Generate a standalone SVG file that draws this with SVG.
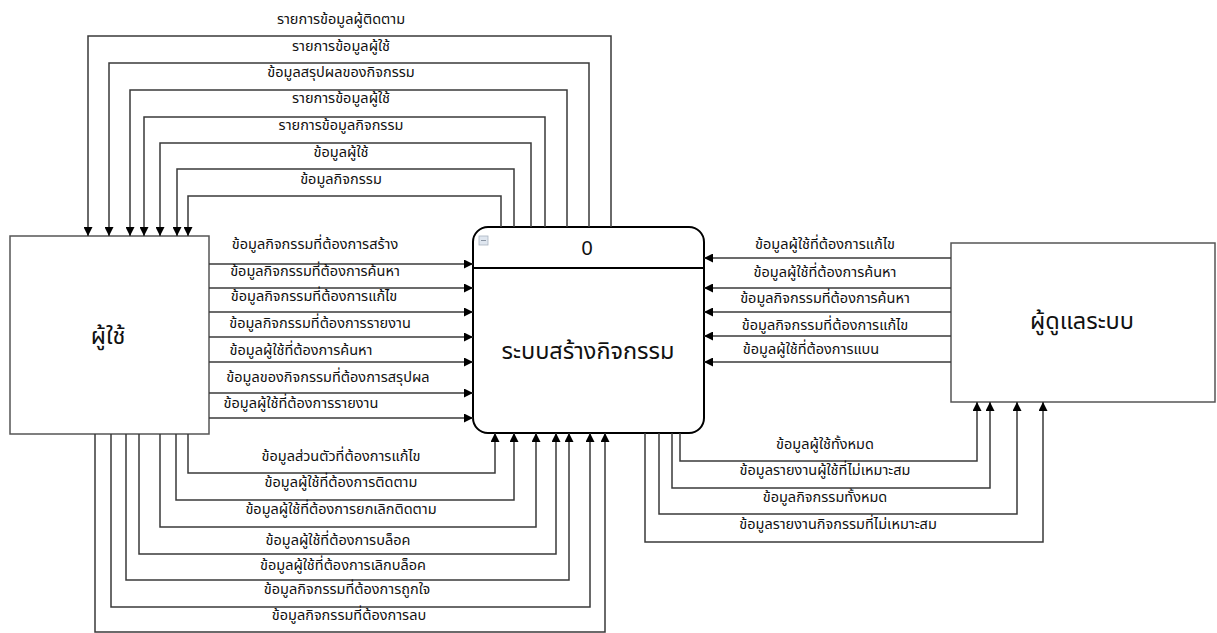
<svg xmlns="http://www.w3.org/2000/svg" width="1217" height="633" viewBox="0 0 1217 633">
<defs>
<marker id="arr" viewBox="0 0 10 10" refX="10" refY="5" markerWidth="9" markerHeight="9" markerUnits="userSpaceOnUse" orient="auto">
<path d="M0,0 L10,5 L0,10 z" fill="#000"/>
</marker>
<style>
.c{fill:none;stroke:#3a3a3a;stroke-width:1.5;marker-end:url(#arr)}
.t{font-family:"Noto Sans Thai","Tahoma","DejaVu Sans",sans-serif;font-size:14.5px;fill:#111;text-anchor:middle;dominant-baseline:central}
.big{font-family:"Noto Sans Thai","Tahoma","DejaVu Sans",sans-serif;font-size:23.5px;fill:#111;text-anchor:middle;dominant-baseline:central}
.ent{fill:#fff;stroke:#555;stroke-width:1.5}
</style>
</defs>
<rect width="1217" height="633" fill="#fff"/>
<g id="user">
<rect class="ent" x="10" y="236" width="199" height="198"/>
<text class="big" x="108" y="337">ผู้ใช้</text>
</g>
<g id="admin">
<rect class="ent" x="951" y="243" width="264" height="159"/>
<text class="big" x="1082" y="322">ผู้ดูแลระบบ</text>
</g>
<g id="process">
<rect x="473" y="227" width="231" height="206" rx="15" ry="15" fill="#fff" stroke="#000" stroke-width="2"/>
<line x1="473" y1="268" x2="704" y2="268" stroke="#000" stroke-width="2"/>
<rect x="479" y="236" width="9" height="9" fill="#dfe6ef" stroke="#aab4c0" stroke-width="0.8"/>
<line x1="481" y1="240.5" x2="486" y2="240.5" stroke="#8a95a3" stroke-width="1"/>
<text class="big" x="587" y="248" style="font-family:'Liberation Sans',sans-serif;font-size:20px">0</text>
<text class="big" x="588" y="352">ระบบสร้างกิจกรรม</text>
</g>
<g id="connectors">
<path class="c" d="M611,227 V36 H88 V236"/>
<path class="c" d="M589,227 V63 H109 V236"/>
<path class="c" d="M567,227 V90 H130 V236"/>
<path class="c" d="M545,227 V117 H144 V236"/>
<path class="c" d="M531,227 V143 H160 V236"/>
<path class="c" d="M514,227 V169 H177 V236"/>
<path class="c" d="M501,227 V196 H188 V236"/>
<path class="c" d="M209,264 H473"/>
<path class="c" d="M209,288 H473"/>
<path class="c" d="M209,312 H473"/>
<path class="c" d="M209,337 H473"/>
<path class="c" d="M209,362 H473"/>
<path class="c" d="M209,393 H473"/>
<path class="c" d="M209,418 H473"/>
<path class="c" d="M951,258 H704"/>
<path class="c" d="M951,288 H704"/>
<path class="c" d="M951,312 H704"/>
<path class="c" d="M951,336 H704"/>
<path class="c" d="M951,362 H704"/>
<path class="c" d="M188,434 V473 H495 V433"/>
<path class="c" d="M176,434 V500 H514 V433"/>
<path class="c" d="M160,434 V527 H536 V433"/>
<path class="c" d="M139,434 V554 H556 V433"/>
<path class="c" d="M126,434 V580 H569 V433"/>
<path class="c" d="M111,434 V607 H590 V433"/>
<path class="c" d="M95,434 V632 H605 V433"/>
<path class="c" d="M680,433 V461 H977 V402"/>
<path class="c" d="M672,433 V488 H990 V402"/>
<path class="c" d="M659,433 V514 H1017 V402"/>
<path class="c" d="M645,433 V542 H1043 V402"/>
</g>
<g id="labels">
<text class="t" x="341" y="20">รายการข้อมูลผู้ติดตาม</text>
<text class="t" x="341" y="47">รายการข้อมูลผู้ใช้</text>
<text class="t" x="341" y="73">ข้อมูลสรุปผลของกิจกรรม</text>
<text class="t" x="341" y="99">รายการข้อมูลผู้ใช้</text>
<text class="t" x="341" y="126">รายการข้อมูลกิจกรรม</text>
<text class="t" x="341" y="153">ข้อมูลผู้ใช้</text>
<text class="t" x="341" y="180">ข้อมูลกิจกรรม</text>
<text class="t" x="315" y="245">ข้อมูลกิจกรรมที่ต้องการสร้าง</text>
<text class="t" x="315" y="272">ข้อมูลกิจกรรมที่ต้องการค้นหา</text>
<text class="t" x="314" y="297">ข้อมูลกิจกรรมที่ต้องการแก้ไข</text>
<text class="t" x="320" y="324">ข้อมูลกิจกรรมที่ต้องการรายงาน</text>
<text class="t" x="301" y="351">ข้อมูลผู้ใช้ที่ต้องการค้นหา</text>
<text class="t" x="328" y="378">ข้อมูลของกิจกรรมที่ต้องการสรุปผล</text>
<text class="t" x="301" y="404">ข้อมูลผู้ใช้ที่ต้องการรายงาน</text>
<text class="t" x="825" y="245">ข้อมูลผู้ใช้ที่ต้องการแก้ไข</text>
<text class="t" x="825" y="273">ข้อมูลผู้ใช้ที่ต้องการค้นหา</text>
<text class="t" x="825" y="299">ข้อมูลกิจกรรมที่ต้องการค้นหา</text>
<text class="t" x="825" y="326">ข้อมูลกิจกรรมที่ต้องการแก้ไข</text>
<text class="t" x="811" y="350">ข้อมูลผู้ใช้ที่ต้องการแบน</text>
<text class="t" x="341" y="457">ข้อมูลส่วนตัวที่ต้องการแก้ไข</text>
<text class="t" x="341" y="483">ข้อมูลผู้ใช้ที่ต้องการติดตาม</text>
<text class="t" x="341" y="510">ข้อมูลผู้ใช้ที่ต้องการยกเลิกติดตาม</text>
<text class="t" x="338" y="541">ข้อมูลผู้ใช้ที่ต้องการบล็อค</text>
<text class="t" x="343" y="566">ข้อมูลผู้ใช้ที่ต้องการเลิกบล็อค</text>
<text class="t" x="347" y="590">ข้อมูลกิจกรรมที่ต้องการถูกใจ</text>
<text class="t" x="349" y="616">ข้อมูลกิจกรรมที่ต้องการลบ</text>
<text class="t" x="825" y="445">ข้อมูลผู้ใช้ทั้งหมด</text>
<text class="t" x="825" y="471">ข้อมูลรายงานผู้ใช้ที่ไม่เหมาะสม</text>
<text class="t" x="825" y="498">ข้อมูลกิจกรรมทั้งหมด</text>
<text class="t" x="838" y="525">ข้อมูลรายงานกิจกรรมที่ไม่เหมาะสม</text>
</g>
</svg>
